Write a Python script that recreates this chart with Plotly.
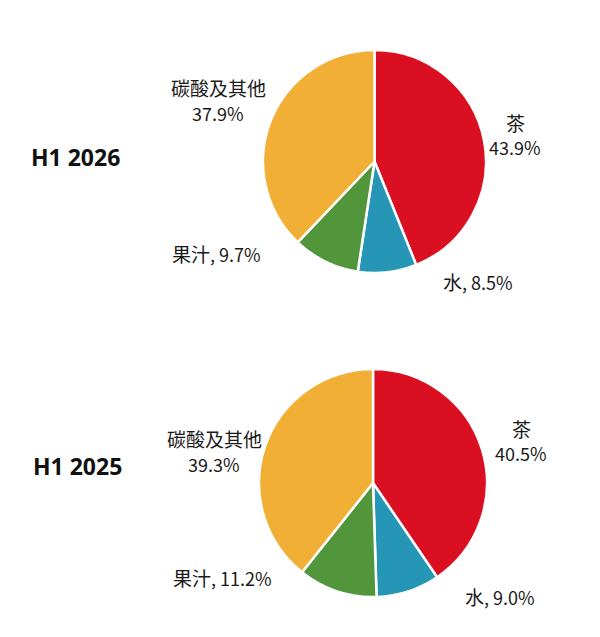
import plotly.graph_objects as go

categories = ["茶", "水", "果汁", "碳酸及其他"]
share_2026 = [43.9, 8.5, 9.7, 37.9]
share_2025 = [40.5, 9.0, 11.2, 39.3]
periods = ["H1 2026", "H1 2025"]

colors = ["#DA0F22", "#2596B5", "#52963C", "#F1AF36"]
W, H = 600, 637
OFF = 8  # page body margin
font_family = "Noto Sans CJK SC"


def px(x):
    return (x - OFF) / W


def py(y):
    return 1 - (y - OFF) / H


def cjk(t):
    return f"<span style='font-size:19px'>{t}</span>"


fig = go.Figure()

domains = [
    dict(x=[px(263), px(486)], y=[py(273), py(50)]),
    dict(x=[px(259), px(487)], y=[py(597), py(369)]),
]
for vals, dom in zip([share_2026, share_2025], domains):
    fig.add_trace(go.Pie(
        labels=categories,
        values=vals,
        sort=False,
        direction='clockwise',
        rotation=0,
        marker=dict(colors=colors, line=dict(color='white', width=2.5)),
        textinfo='none',
        hoverinfo='label+percent',
        domain=dom,
        showlegend=False,
    ))

# label positions (pixel centres) for each pie
label_pos = [
    {"茶": [(515, 122), (515, 147)], "水": [(478, 282)], "果汁": [(216, 254)],
     "碳酸及其他": [(218, 88), (218, 113)]},
    {"茶": [(521, 428), (521, 453)], "水": [(500, 596)], "果汁": [(222, 577)],
     "碳酸及其他": [(214, 438), (214, 464)]},
]
title_pos = [(75, 157), (77, 466)]

annotations = []
for vals, pos, period, tp in zip([share_2026, share_2025], label_pos, periods, title_pos):
    for cat, v in zip(categories, vals):
        spots = pos[cat]
        if len(spots) == 2:
            texts = [cjk(cat), f"{v:.1f}%"]
        else:
            texts = [f"{cjk(cat)}, {v:.1f}%"]
        for t, (x, y) in zip(texts, spots):
            annotations.append(dict(
                x=px(x), y=py(y), xref='paper', yref='paper',
                text=t, showarrow=False, xanchor='center', yanchor='middle',
                font=dict(size=18, color='#1a1a1a', family=font_family),
            ))
    annotations.append(dict(
        x=px(tp[0]), y=py(tp[1]), xref='paper', yref='paper',
        text=f"<b>{period}</b>", showarrow=False, xanchor='center', yanchor='middle',
        font=dict(size=23, color='#111111', family="Open Sans"),
    ))

fig.update_layout(
    width=W,
    height=H,
    margin=dict(l=0, r=0, t=0, b=0),
    paper_bgcolor='white',
    plot_bgcolor='white',
    annotations=annotations,
)

fig.write_html("out.html")
